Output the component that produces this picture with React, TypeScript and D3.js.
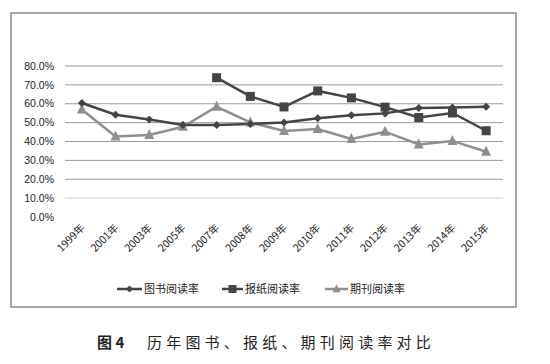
import React from "react";
import * as d3 from "d3";

const years = ["1999年", "2001年", "2003年", "2005年", "2007年", "2008年", "2009年", "2010年", "2011年", "2012年", "2013年", "2014年", "2015年"];
const bookRate: (number | null)[] = [60.4, 54.2, 51.7, 48.7, 48.8, 49.3, 50.1, 52.3, 53.9, 54.9, 57.8, 58.0, 58.4];
const newspaperRate: (number | null)[] = [null, null, null, null, 73.8, 63.9, 58.3, 66.8, 63.1, 58.2, 52.7, 55.1, 45.7];
const magazineRate: (number | null)[] = [57.0, 42.6, 43.4, 47.8, 58.4, 50.1, 45.6, 46.6, 41.3, 45.2, 38.4, 40.3, 34.6];
const yTicks = [0, 10, 20, 30, 40, 50, 60, 70, 80];
const seriesNames = ["图书阅读率", "报纸阅读率", "期刊阅读率"];
const caption = "历年图书、报纸、期刊阅读率对比";

const W = 550, H = 364;
const plotLeft = 65, plotRight = 503, plotTop = 66, plotBottom = 217;

export default function App() {
  const x = d3.scalePoint<string>().domain(years).range([plotLeft, plotRight]).padding(0.5);
  const y = d3.scaleLinear().domain([0, 80]).range([plotBottom, plotTop]);
  const line = d3
    .line<number | null>()
    .defined((d) => d != null)
    .x((_, i) => x(years[i]) as number)
    .y((d) => y(d as number));

  const dark = "#444444";
  const light = "#8f8f8f";
  const sans = "'Liberation Sans', Arial, sans-serif";
  const cjk = "'Noto Sans CJK SC', sans-serif";

  const diamond = (cx: number, cy: number, r: number, fill: string, key?: any) => (
    <path key={key} d={`M${cx},${cy - r}L${cx + r},${cy}L${cx},${cy + r}L${cx - r},${cy}Z`} fill={fill} />
  );
  const square = (cx: number, cy: number, s: number, fill: string, key?: any) => (
    <rect key={key} x={cx - s / 2} y={cy - s / 2} width={s} height={s} fill={fill} />
  );
  const tri = (cx: number, cy: number, s: number, fill: string, key?: any) => (
    <path key={key} d={`M${cx},${cy - s * 0.6}L${cx + s / 2},${cy + s * 0.4}L${cx - s / 2},${cy + s * 0.4}Z`} fill={fill} />
  );

  const legendY = 289;
  const legendItems = [
    { x0: 117, x1: 142, tx: 144, color: dark, marker: (cx: number) => diamond(cx, legendY, 3.5, dark) },
    { x0: 222, x1: 243, tx: 245, color: dark, marker: (cx: number) => square(cx, legendY, 8, dark) },
    { x0: 325, x1: 348, tx: 350, color: light, marker: (cx: number) => tri(cx, legendY, 8, light) },
  ];

  return (
    <svg width={W} height={H} style={{ position: "absolute", left: 0, top: 0, background: "#fff" }}>
      <rect x={0} y={0} width={W} height={H} fill="#fff" />
      <rect x={11} y={13} width={505} height={294} fill="none" stroke="#8a8a8a" strokeWidth={1.5} />
      {yTicks.map((t) => (
        <g key={t}>
          {t > 0 && (
            <line
              x1={plotLeft}
              x2={plotRight}
              y1={y(t)}
              y2={y(t)}
              stroke={t === 10 ? "#d4d4d4" : "#9a9a9a"}
              strokeWidth={1}
            />
          )}
          <text x={54} y={y(t)} dy="0.35em" textAnchor="end" fontSize={10.5} fontFamily={sans} fill="#222">
            {d3.format(".1f")(t)}%
          </text>
        </g>
      ))}
      {years.map((yr) => (
        <text
          key={yr}
          transform={`translate(${(x(yr) as number) + 1},${226}) rotate(-45)`}
          textAnchor="end"
          dy="0.35em"
          fontSize={10.5}
          fontFamily={cjk}
          fill="#222"
        >
          {yr}
        </text>
      ))}
      <path d={line(magazineRate) || ""} fill="none" stroke={light} strokeWidth={2.5} />
      <path d={line(bookRate) || ""} fill="none" stroke={dark} strokeWidth={2.5} />
      <path d={line(newspaperRate) || ""} fill="none" stroke={dark} strokeWidth={2.5} />
      {magazineRate.map((v, i) => (v == null ? null : tri(x(years[i]) as number, y(v), 10, light, "m" + i)))}
      {bookRate.map((v, i) => (v == null ? null : diamond(x(years[i]) as number, y(v), 4, dark, "b" + i)))}
      {newspaperRate.map((v, i) => (v == null ? null : square(x(years[i]) as number, y(v), 9, dark, "n" + i)))}
      {legendItems.map((it, i) => (
        <g key={i}>
          <line x1={it.x0} x2={it.x1} y1={legendY} y2={legendY} stroke={it.color} strokeWidth={2.5} />
          {it.marker((it.x0 + it.x1) / 2)}
          <text x={it.tx} y={legendY} dy="0.35em" fontSize={11} fontFamily={cjk} fill="#222">
            {seriesNames[i]}
          </text>
        </g>
      ))}
      <text x={97} y={343} dy="0.35em" fontSize={15} fontFamily={cjk} fontWeight="bold" fill="#222">
        图 4
      </text>
      <text x={147} y={343} dy="0.35em" fontSize={15} fontFamily={cjk} fill="#222" letterSpacing={4.2}>
        {caption}
      </text>
    </svg>
  );
}
